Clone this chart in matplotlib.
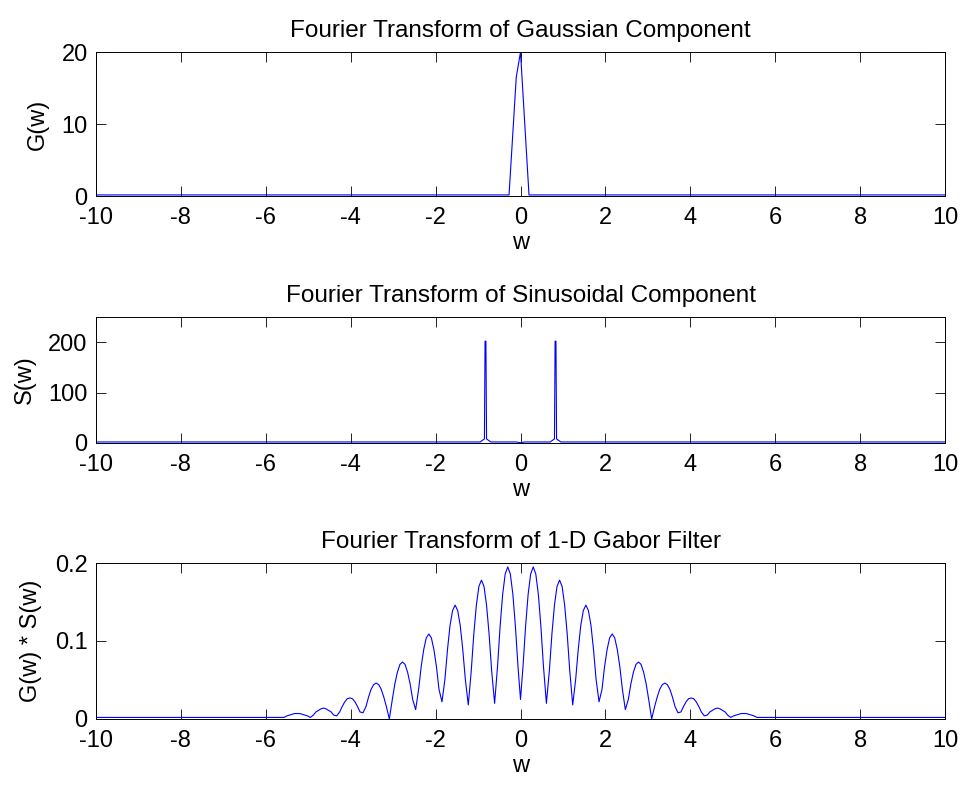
import numpy as np
import matplotlib
matplotlib.use("Agg")
import matplotlib.pyplot as plt

plt.rcParams['font.family'] = ['Liberation Sans', 'DejaVu Sans']

# --- Gaussian component G(w)
w_gauss = [-10.0, -0.27, -0.1, 0.0, 0.2, 10.0]
g_gauss = [0.15, 0.15, 16.5, 20.0, 0.15, 0.15]

# --- Sinusoidal component S(w): two spikes near +-0.8
w_sin = [-10.0, -0.95, -0.85, -0.835, -0.815, -0.80, -0.70, -0.1, 0.0, 0.1,
         0.70, 0.80, 0.815, 0.835, 0.85, 0.95, 10.0]
s_sin = [2.0, 2.0, 8.0, 202.0, 202.0, 8.0, 2.0, 2.0, 0.5, 2.0,
         2.0, 8.0, 202.0, 202.0, 8.0, 2.0, 2.0]

# --- product G(w)*S(w), read for w >= 0 (the curve is symmetric)
w_half = [0.00,
          0.06, 0.12, 0.18, 0.24, 0.30, 0.36, 0.42, 0.48, 0.54, 0.61,
          0.68, 0.74, 0.80, 0.86, 0.92, 0.98, 1.04, 1.10, 1.16, 1.23,
          1.30, 1.36, 1.42, 1.48, 1.54, 1.60, 1.66, 1.72, 1.78, 1.85,
          1.92, 1.98, 2.04, 2.10, 2.16, 2.22, 2.28, 2.34, 2.40, 2.47,
          2.54, 2.60, 2.66, 2.72, 2.78, 2.84, 2.90, 2.96, 3.02, 3.09,
          3.16, 3.22, 3.28, 3.34, 3.40, 3.46, 3.52, 3.58, 3.64, 3.71,
          3.78, 3.84, 3.90, 3.96, 4.02, 4.08, 4.14, 4.20, 4.26, 4.33,
          4.40, 4.46, 4.52, 4.58, 4.64, 4.70, 4.76, 4.82, 4.88, 4.95,
          5.02, 5.08, 5.14, 5.20, 5.26, 5.32, 5.38, 5.44, 5.50, 5.57,
          6.00, 10.00]
gs_half = [0.025,
           0.068, 0.119, 0.160, 0.186, 0.195, 0.186, 0.160, 0.119, 0.068, 0.020,
           0.062, 0.109, 0.146, 0.170, 0.178, 0.170, 0.146, 0.109, 0.062, 0.018,
           0.051, 0.089, 0.120, 0.139, 0.146, 0.139, 0.120, 0.089, 0.051, 0.022,
           0.038, 0.067, 0.089, 0.104, 0.109, 0.104, 0.089, 0.067, 0.038, 0.012,
           0.025, 0.045, 0.060, 0.070, 0.073, 0.070, 0.060, 0.045, 0.025, 0.000,
           0.016, 0.028, 0.038, 0.044, 0.046, 0.044, 0.038, 0.028, 0.016, 0.008,
           0.009, 0.016, 0.022, 0.026, 0.027, 0.026, 0.022, 0.016, 0.009, 0.004,
           0.005, 0.009, 0.011, 0.013, 0.014, 0.013, 0.011, 0.009, 0.005, 0.002,
           0.004, 0.005, 0.006, 0.007, 0.007, 0.007, 0.006, 0.005, 0.004, 0.002,
           0.002, 0.002]

w_half = np.array(w_half)
gs_half = np.array(gs_half)
w_gabor = np.concatenate([-w_half[:0:-1], w_half])
gs_gabor = np.concatenate([gs_half[:0:-1], gs_half])

xticks = np.arange(-10, 11, 2)
titles = ["Fourier Transform of Gaussian Component",
          "Fourier Transform of Sinusoidal Component",
          "Fourier Transform of 1-D Gabor Filter"]
ylabels = ["G(w)", "S(w)", "G(w) * S(w)"]
ylims = [(0, 20), (0, 250), (0, 0.2)]
yticks = [[0, 10, 20], [0, 100, 200], [0, 0.1, 0.2]]
yticklabels = [["0", "10", "20"], ["0", "100", "200"], ["0", "0.1", "0.2"]]

fig = plt.figure(figsize=(9.63, 7.85), dpi=100)
# axes boxes in figure fractions
boxes = [[0.0997, 0.7503, 0.8816, 0.1834],
         [0.0997, 0.4357, 0.8816, 0.1605],
         [0.0997, 0.0841, 0.8816, 0.1987]]
series = [(w_gauss, g_gauss), (w_sin, s_sin), (w_gabor, gs_gabor)]

fs = 17
for i in range(3):
    ax = fig.add_axes(boxes[i])
    x, y = series[i]
    ax.plot(x, y, color=(0, 0, 1), lw=0.8)
    ax.set_xlim(-10, 10)
    ax.set_ylim(*ylims[i])
    ax.set_xticks(xticks)
    ax.set_xticklabels([str(t) for t in xticks])
    ax.set_yticks(yticks[i])
    ax.set_yticklabels(yticklabels[i])
    ax.tick_params(direction='in', top=True, right=True, length=7, width=0.6,
                   labelsize=fs)
    ax.tick_params(axis='x', pad=8)
    ax.tick_params(axis='y', pad=6)
    for sp in ax.spines.values():
        sp.set_linewidth(0.7)
    ax.set_title(titles[i], fontsize=fs + 0.5, pad=11)
    ax.set_xlabel("w", fontsize=fs, labelpad=2)
    ax.set_ylabel(ylabels[i], fontsize=fs, labelpad=9)

fig.savefig("out.png", dpi=100)
